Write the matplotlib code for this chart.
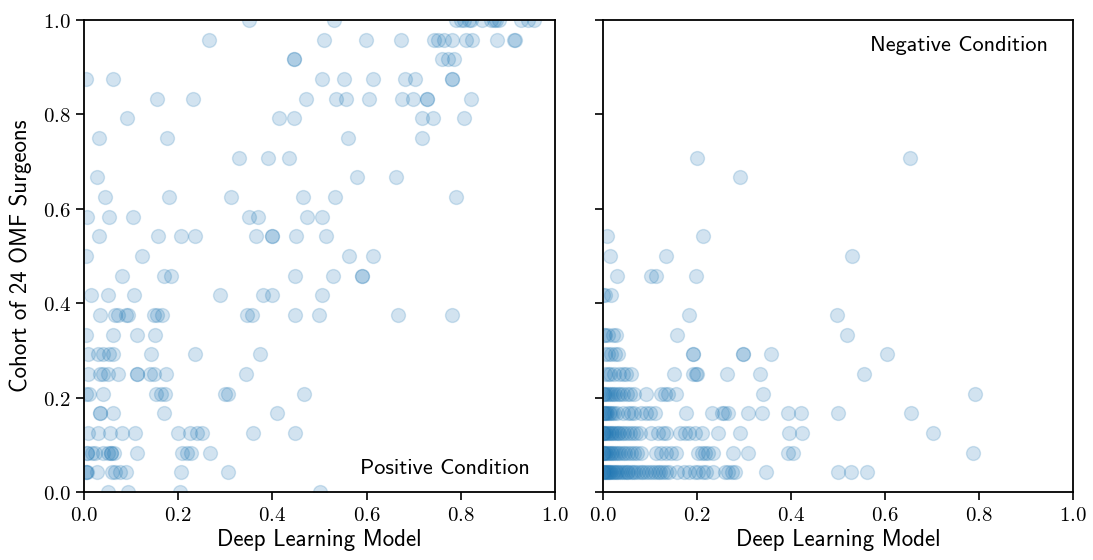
import matplotlib
matplotlib.use("Agg")
import matplotlib.pyplot as plt
from matplotlib.ticker import FuncFormatter

plt.rcParams['mathtext.fontset'] = 'cm'

N_SURGEONS = 24

# ---- Positive condition: model score (x) and number of surgeons (of 24) ----
pos_x = [
    0.351, 0.530, 0.789, 0.800, 0.807, 0.818, 0.822, 0.846, 0.864, 0.871, 0.875, 0.882, 0.928, 0.942, 0.956,
    0.266, 0.509, 0.598, 0.672, 0.743, 0.751, 0.764, 0.781, 0.811, 0.823, 0.877, 0.913, 0.915,
    0.445, 0.445, 0.760, 0.772, 0.785,
    0.004, 0.062, 0.506, 0.553, 0.614, 0.681, 0.702, 0.782, 0.782,
    0.155, 0.232, 0.472, 0.534, 0.557, 0.606, 0.676, 0.698, 0.728, 0.728, 0.821,
    0.091, 0.415, 0.445, 0.718, 0.742, 0.807,
    0.032, 0.177, 0.560, 0.717,
    0.330, 0.391, 0.436,
    0.028, 0.580, 0.662,
    0.045, 0.181, 0.313, 0.464, 0.532, 0.789,
    0.006, 0.053, 0.104, 0.351, 0.370, 0.474, 0.506,
    0.032, 0.157, 0.206, 0.236, 0.366, 0.400, 0.400, 0.451, 0.513,
    0.004, 0.123, 0.562, 0.614,
    0.081, 0.169, 0.184, 0.447, 0.529, 0.591, 0.591,
    0.014, 0.052, 0.106, 0.289, 0.381, 0.399, 0.506,
    0.034, 0.066, 0.073, 0.089, 0.094, 0.149, 0.156, 0.165, 0.346, 0.357, 0.449, 0.499, 0.667, 0.781,
    0.004, 0.061, 0.112, 0.151,
    0.009, 0.030, 0.040, 0.054, 0.062, 0.142, 0.236, 0.373,
    0.009, 0.034, 0.041, 0.052, 0.073, 0.113, 0.113, 0.140, 0.149, 0.174, 0.345,
    0.004, 0.011, 0.041, 0.153, 0.163, 0.172, 0.300, 0.305, 0.467,
    0.034, 0.034, 0.062, 0.169, 0.409,
    0.009, 0.030, 0.055, 0.080, 0.108, 0.199, 0.225, 0.240, 0.250, 0.359, 0.449,
    0.006, 0.006, 0.016, 0.023, 0.040, 0.050, 0.058, 0.058, 0.064, 0.113, 0.208, 0.218, 0.227, 0.268,
    0.004, 0.004, 0.006, 0.027, 0.060, 0.066, 0.076, 0.090, 0.205, 0.305,
    0.051, 0.094, 0.203, 0.502,
]
pos_votes = (
    [24] * 15 + [23] * 13 + [22] * 5 + [21] * 9 + [20] * 11 + [19] * 6 + [18] * 4 + [17] * 3
    + [16] * 3 + [15] * 6 + [14] * 7 + [13] * 9 + [12] * 4 + [11] * 7 + [10] * 7 + [9] * 14
    + [8] * 4 + [7] * 8 + [6] * 11 + [5] * 9 + [4] * 5 + [3] * 11 + [2] * 14 + [1] * 10 + [0] * 4
)

# ---- Negative condition ----
neg_x = [
    0.199, 0.653,
    0.291,
    0.008, 0.213,
    0.015, 0.135, 0.530,
    0.029, 0.102, 0.112, 0.198,
    0.000, 0.004, 0.016,
    0.182, 0.498,
    0.002, 0.005, 0.011, 0.021, 0.028, 0.158, 0.519,
    0.004, 0.011, 0.018, 0.025, 0.032, 0.191, 0.191, 0.297, 0.297, 0.357, 0.605,
    0.005, 0.011, 0.014, 0.023, 0.033, 0.043, 0.049, 0.059, 0.151, 0.191, 0.198, 0.201, 0.263, 0.333, 0.555,
    # k = 5
    0.000, 0.002, 0.005, 0.009, 0.012, 0.017, 0.021, 0.026, 0.031, 0.037, 0.043, 0.050, 0.057, 0.066,
    0.092, 0.124, 0.131, 0.138, 0.156, 0.341, 0.791,
    # k = 4
    0.000, 0.002, 0.004, 0.006, 0.009, 0.012, 0.015, 0.019, 0.024, 0.029,
    0.042, 0.053, 0.060, 0.067, 0.081, 0.092, 0.099, 0.110, 0.177, 0.231, 0.253, 0.257, 0.267,
    0.309, 0.338, 0.394, 0.421, 0.501, 0.655,
    # k = 3
    0.000, 0.001, 0.003, 0.005, 0.007, 0.010, 0.013, 0.016, 0.019, 0.023, 0.027, 0.031, 0.035,
    0.040, 0.045, 0.051, 0.057, 0.063, 0.070, 0.078,
    0.103, 0.117, 0.128, 0.135, 0.163, 0.174, 0.184, 0.195, 0.210, 0.245, 0.291, 0.396, 0.423, 0.703,
    # k = 2
    0.000, 0.001, 0.003, 0.005, 0.007, 0.010, 0.013, 0.016, 0.020, 0.024, 0.028, 0.032, 0.037,
    0.042, 0.047, 0.053, 0.059, 0.066, 0.073, 0.080,
    0.113, 0.124, 0.135, 0.145, 0.156, 0.202, 0.210, 0.217, 0.224, 0.235, 0.277, 0.309, 0.394, 0.404, 0.787,
    # k = 1
    0.000, 0.001, 0.002, 0.004, 0.006, 0.008, 0.010, 0.012, 0.015, 0.018, 0.021, 0.024, 0.027,
    0.030, 0.034, 0.038, 0.042, 0.046, 0.050, 0.054, 0.059, 0.064, 0.069, 0.074, 0.080, 0.086,
    0.092, 0.098, 0.104, 0.110, 0.116, 0.122, 0.128, 0.134, 0.140,
    0.157, 0.173, 0.184, 0.195, 0.202, 0.213, 0.220, 0.235, 0.260, 0.267, 0.274, 0.281, 0.347,
    0.501, 0.527, 0.562,
]
neg_votes = (
    [17] * 2 + [16] * 1 + [13] * 2 + [12] * 3 + [11] * 4 + [10] * 3 + [9] * 2 + [8] * 7 + [7] * 11
    + [6] * 15 + [5] * 21 + [4] * 29 + [3] * 34 + [2] * 35 + [1] * 51
)

panel_titles = ["Positive Condition", "Negative Condition"]
x_label = "Deep Learning Model"
y_label = "Cohort of 24 OMF Surgeons"
ticks = [0.0, 0.2, 0.4, 0.6, 0.8, 1.0]

SANS = ['cmss10', 'DejaVu Sans']

fig = plt.figure(figsize=(10.93, 5.60), dpi=100)
ax1 = fig.add_axes([84 / 1093, 1 - 492 / 560, 471 / 1093, 472 / 560])
ax2 = fig.add_axes([603 / 1093, 1 - 492 / 560, 470 / 1093, 472 / 560], sharey=ax1)

color = '#1f77b4'
for ax, xs, votes in [(ax1, pos_x, pos_votes), (ax2, neg_x, neg_votes)]:
    ys = [v / N_SURGEONS for v in votes]
    ax.scatter(xs, ys, s=100, color=color, alpha=0.2, linewidths=1.0, clip_on=True)
    ax.set_xlim(0, 1)
    ax.set_ylim(0, 1)
    ax.set_xticks(ticks)
    ax.set_yticks(ticks)
    fmt = FuncFormatter(lambda v, p: r'$%.1f$' % v)
    ax.xaxis.set_major_formatter(fmt)
    ax.yaxis.set_major_formatter(fmt)
    ax.tick_params(direction='out', length=6, width=1.2, labelsize=15, colors='black')
    for sp in ax.spines.values():
        sp.set_linewidth(1.3)
        sp.set_color('black')
    ax.set_xlabel(x_label, fontsize=16.5, family=SANS, labelpad=3)

ax1.set_ylabel(y_label, fontsize=16.5, family=SANS, labelpad=8)
ax2.tick_params(labelleft=False)

ax1.text(0.947, 0.05, panel_titles[0], transform=ax1.transAxes,
         ha='right', va='center', fontsize=16, family=SANS)
ax2.text(0.947, 0.947, panel_titles[1], transform=ax2.transAxes,
         ha='right', va='center', fontsize=16, family=SANS)

fig.savefig('out.png', dpi=100)
